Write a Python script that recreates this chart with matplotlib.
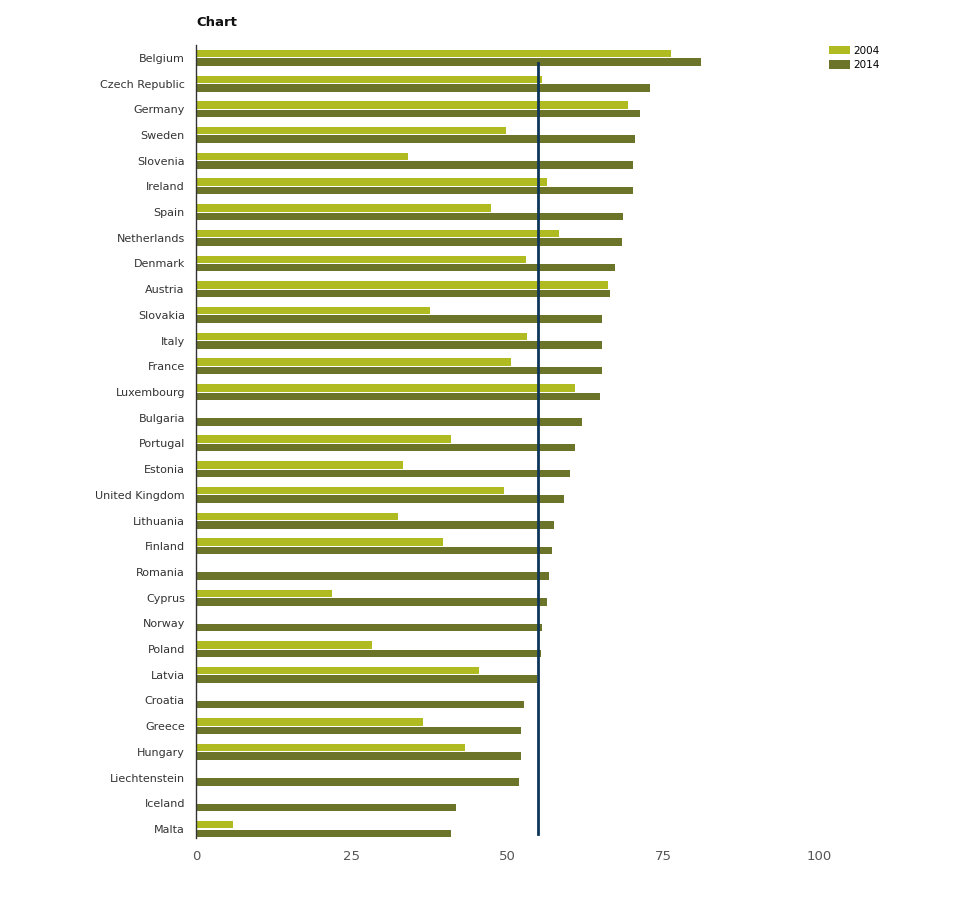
import matplotlib.pyplot as plt
import numpy as np

countries = ['Belgium', 'Czech Republic', 'Germany', 'Sweden', 'Slovenia', 'Ireland',
             'Spain', 'Netherlands', 'Denmark', 'Austria', 'Slovakia', 'Italy', 'France',
             'Luxembourg', 'Bulgaria', 'Portugal', 'Estonia', 'United Kingdom', 'Lithuania',
             'Finland', 'Romania', 'Cyprus', 'Norway', 'Poland', 'Latvia', 'Croatia',
             'Greece', 'Hungary', 'Liechtenstein', 'Iceland', 'Malta']

# nan = no 2004 value
vals_2004 = [76.2, 55.5, 69.4, 49.7, 34.1, 56.3, 47.3, 58.3, 53.0, 66.1, 37.5, 53.2, 50.5,
             60.8, np.nan, 40.9, 33.3, 49.5, 32.5, 39.7, np.nan, 21.9, np.nan, 28.2, 45.5,
             np.nan, 36.5, 43.1, np.nan, np.nan, 5.9]
vals_2014 = [81.1, 72.8, 71.2, 70.4, 70.2, 70.1, 68.5, 68.3, 67.2, 66.4, 65.2, 65.2, 65.1,
             64.8, 61.9, 60.8, 60.1, 59.0, 57.5, 57.2, 56.6, 56.4, 55.5, 55.3, 54.7,
             52.6, 52.2, 52.1, 51.8, 41.7, 41.0]
target = 54.9

c2004 = '#afbb21'
c2014 = '#6b7428'

fig = plt.figure(figsize=(9.75, 9), dpi=100)
ax = fig.add_axes([196 / 975, 1 - 838 / 900, (819 - 196) / 975, (838 - 45) / 900])

y = np.arange(len(countries))
h = 0.29
ax.barh(y - 0.165, vals_2004, height=h, color=c2004, label='2004')
ax.barh(y + 0.165, vals_2014, height=h, color=c2014, label='2014')
ax.axvline(target, ymin=0.005, ymax=0.977, color='#0e355a', lw=2)

ax.set_ylim(len(countries) - 0.65, -0.5)
ax.set_xlim(0, 100)
ax.set_yticks(y)
ax.set_yticklabels(countries, fontsize=8, color='#333333')
ax.set_xticks([0, 25, 50, 75, 100])
ax.tick_params(axis='y', length=0, pad=8)
ax.tick_params(axis='x', length=0, pad=8.5, labelsize=9.5, labelcolor='#555555')
for s in ['top', 'right', 'bottom']:
    ax.spines[s].set_visible(False)
ax.spines['left'].set_color('#333333')
ax.spines['left'].set_linewidth(1)

fig.text(196 / 975, 1 - 22 / 900, 'Chart', fontsize=9.5, fontweight='bold',
         va='center', ha='left', color='#111111')

fig.legend(loc='upper left', bbox_to_anchor=(825 / 975, 1 - 41.5 / 900), frameon=False,
           fontsize=7.5, handlelength=2.0, handleheight=0.9, handletextpad=0.3,
           labelspacing=0.45, borderaxespad=0)

fig.savefig('out.png', dpi=100)
